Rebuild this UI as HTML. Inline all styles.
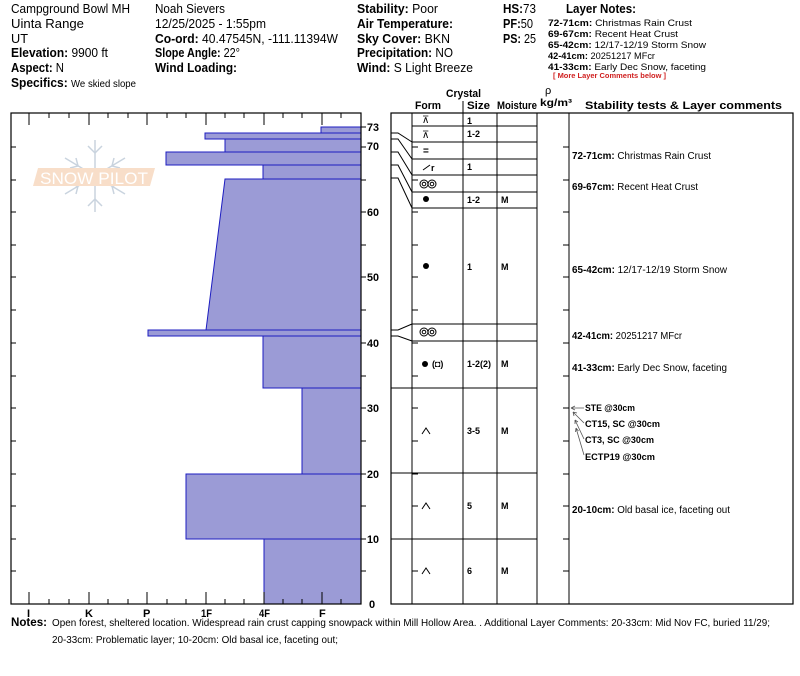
<!DOCTYPE html>
<html><head><meta charset="utf-8"><style>
html,body{margin:0;padding:0;background:#fff;width:800px;height:676px;overflow:hidden}
svg{display:block}
text{font-family:"Liberation Sans",sans-serif;fill:#000}
.h{font-size:12.5px}
.b{font-weight:bold}
.s{font-size:9.5px}
.t{font-size:9px;font-weight:bold}
</style></head><body>
<svg width="800" height="676" viewBox="0 0 800 676" xmlns="http://www.w3.org/2000/svg">
<!-- header -->
<text x="11" y="13" class="h" textLength="119" lengthAdjust="spacingAndGlyphs">Campground Bowl MH</text>
<text x="11" y="28" class="h" textLength="73" lengthAdjust="spacingAndGlyphs">Uinta Range</text>
<text x="11" y="43" class="h" textLength="17" lengthAdjust="spacingAndGlyphs">UT</text>
<text x="11" y="57" class="h" textLength="97" lengthAdjust="spacingAndGlyphs"><tspan class="b">Elevation:</tspan> 9900 ft</text>
<text x="11" y="72" class="h" textLength="53" lengthAdjust="spacingAndGlyphs"><tspan class="b">Aspect:</tspan> N</text>
<text x="11" y="87" class="h" textLength="125" lengthAdjust="spacingAndGlyphs"><tspan class="b">Specifics:</tspan> <tspan style="font-size:10px">We skied slope</tspan></text>
<text x="155" y="13" class="h" textLength="70" lengthAdjust="spacingAndGlyphs">Noah Sievers</text>
<text x="155" y="28" class="h" textLength="111" lengthAdjust="spacingAndGlyphs">12/25/2025 - 1:55pm</text>
<text x="155" y="43" class="h" textLength="183" lengthAdjust="spacingAndGlyphs"><tspan class="b">Co-ord:</tspan> 40.47545N, -111.11394W</text>
<text x="155" y="57" class="h" textLength="85" lengthAdjust="spacingAndGlyphs"><tspan class="b">Slope Angle:</tspan> 22°</text>
<text x="155" y="72" class="h b" textLength="82" lengthAdjust="spacingAndGlyphs">Wind Loading:</text>
<text x="357" y="13" class="h" textLength="81" lengthAdjust="spacingAndGlyphs"><tspan class="b">Stability:</tspan> Poor</text>
<text x="357" y="28" class="h b" textLength="96" lengthAdjust="spacingAndGlyphs">Air Temperature:</text>
<text x="357" y="43" class="h" textLength="93" lengthAdjust="spacingAndGlyphs"><tspan class="b">Sky Cover:</tspan> BKN</text>
<text x="357" y="57" class="h" textLength="96" lengthAdjust="spacingAndGlyphs"><tspan class="b">Precipitation:</tspan> NO</text>
<text x="357" y="72" class="h" textLength="116" lengthAdjust="spacingAndGlyphs"><tspan class="b">Wind:</tspan>  S Light Breeze</text>
<text x="503" y="13" class="h" textLength="33" lengthAdjust="spacingAndGlyphs"><tspan class="b">HS:</tspan>73</text>
<text x="503" y="28" class="h" textLength="30" lengthAdjust="spacingAndGlyphs"><tspan class="b">PF:</tspan>50</text>
<text x="503" y="43" class="h" textLength="33" lengthAdjust="spacingAndGlyphs"><tspan class="b">PS:</tspan> 25</text>
<text x="566" y="13" class="h b" textLength="70" lengthAdjust="spacingAndGlyphs">Layer Notes:</text>
<text x="548" y="26" class="s" textLength="144" lengthAdjust="spacingAndGlyphs"><tspan font-weight="bold">72-71cm:</tspan> Christmas Rain Crust</text>
<text x="548" y="37" class="s" textLength="130" lengthAdjust="spacingAndGlyphs"><tspan font-weight="bold">69-67cm:</tspan> Recent Heat Crust</text>
<text x="548" y="48" class="s" textLength="158" lengthAdjust="spacingAndGlyphs"><tspan font-weight="bold">65-42cm:</tspan> 12/17-12/19 Storm Snow</text>
<text x="548" y="59" class="s" textLength="107" lengthAdjust="spacingAndGlyphs"><tspan font-weight="bold">42-41cm:</tspan> 20251217 MFcr</text>
<text x="548" y="70" class="s" textLength="158" lengthAdjust="spacingAndGlyphs"><tspan font-weight="bold">41-33cm:</tspan> Early Dec Snow, faceting</text>
<text x="553" y="78" style="font-size:7px;fill:#d02020;font-weight:bold" textLength="113" lengthAdjust="spacingAndGlyphs">[ More Layer Comments below ]</text>
<!-- table headers -->
<text x="446" y="97" font-size="11" font-weight="bold" textLength="35" lengthAdjust="spacingAndGlyphs">Crystal</text>
<text x="415" y="109" font-size="11" font-weight="bold" textLength="26" lengthAdjust="spacingAndGlyphs">Form</text>
<text x="467" y="109" font-size="11" font-weight="bold" textLength="23" lengthAdjust="spacingAndGlyphs">Size</text>
<text x="497" y="109" font-size="11" font-weight="bold" textLength="40" lengthAdjust="spacingAndGlyphs">Moisture</text>
<text x="545" y="94" font-size="11">ρ</text>
<text x="540" y="106" font-size="10" font-weight="bold" textLength="32" lengthAdjust="spacingAndGlyphs">kg/m³</text>
<text x="585" y="109" font-size="11" font-weight="bold" textLength="197" lengthAdjust="spacingAndGlyphs">Stability tests &amp; Layer comments</text>
<line x1="463" y1="101" x2="463" y2="113" stroke="#000"/>
<!-- watermark -->
<g opacity="0.45">
<g stroke="#8aa0b8" stroke-width="1.5" fill="none">
<line x1="95" y1="140" x2="95" y2="212"/>
<line x1="65" y1="158" x2="125" y2="194"/>
<line x1="65" y1="194" x2="125" y2="158"/>
<path d="M88 146 L95 153 L102 146 M88 206 L95 199 L102 206 M70 168 L78 166 L76 158 M120 184 L112 186 L114 194 M70 184 L78 186 L76 194 M120 168 L112 166 L114 158"/>
</g>
<polygon points="38,168 155,168 150,186 33,186" fill="#f0b888"/>
<text x="40" y="184" style="font-size:17px;fill:#fff" textLength="108" lengthAdjust="spacingAndGlyphs">SNOW PILOT</text>
</g>
<!-- bars -->
<g fill="#9b9bd6" stroke="#1c1cc0" stroke-width="1">
<rect x="264" y="539" width="97" height="65"/>
<rect x="186" y="474" width="175" height="65"/>
<rect x="302" y="388" width="59" height="86"/>
<rect x="263" y="336" width="98" height="52"/>
<rect x="148" y="330" width="213" height="6"/>
<polygon points="206,330 225,179 361,179 361,330"/>
<rect x="263" y="165" width="98" height="14"/>
<rect x="166" y="152" width="195" height="13"/>
<rect x="225" y="139" width="136" height="13"/>
<rect x="205" y="133" width="156" height="6"/>
<rect x="321" y="127" width="40" height="6"/>
</g>
<rect x="11" y="113" width="350" height="491" fill="none" stroke="#000" stroke-width="1.2"/>
<g stroke="#000" stroke-width="1">
<path d="M29 113v12M89 113v12M147 113v12M206 113v12M264 113v12M322 113v12
M49 113v5M69 113v5M108 113v5M128 113v5M167 113v5M186 113v5M225 113v5M244 113v5M283 113v5M302 113v5M341 113v5
M29 604v-12M89 604v-12M147 604v-12M206 604v-12M264 604v-12M322 604v-12
M49 604v-5M69 604v-5M108 604v-5M128 604v-5M167 604v-5M186 604v-5M225 604v-5M244 604v-5M283 604v-5M302 604v-5M341 604v-5"/>
<path d="M11 571h5M11 539h5M11 506h5M11 474h5M11 441h5M11 408h5M11 376h5M11 343h5M11 310h5M11 277h5M11 245h5M11 212h5M11 180h5M11 147h5
M361 571h5M361 539h5M361 506h5M361 474h5M361 441h5M361 408h5M361 376h5M361 343h5M361 310h5M361 277h5M361 245h5M361 212h5M361 180h5M361 147h5M361 127h5"/>
</g>
<g font-weight="bold" font-size="11">
<text x="367" y="131" textLength="12" lengthAdjust="spacingAndGlyphs">73</text>
<text x="367" y="150" textLength="12" lengthAdjust="spacingAndGlyphs">70</text>
<text x="367" y="216" textLength="12" lengthAdjust="spacingAndGlyphs">60</text>
<text x="367" y="281" textLength="12" lengthAdjust="spacingAndGlyphs">50</text>
<text x="367" y="347" textLength="12" lengthAdjust="spacingAndGlyphs">40</text>
<text x="367" y="412" textLength="12" lengthAdjust="spacingAndGlyphs">30</text>
<text x="367" y="478" textLength="12" lengthAdjust="spacingAndGlyphs">20</text>
<text x="367" y="543" textLength="12" lengthAdjust="spacingAndGlyphs">10</text>
<text x="369" y="608">0</text>
<text x="27" y="617">I</text>
<text x="85" y="617">K</text>
<text x="143" y="617">P</text>
<text x="201" y="617" textLength="11" lengthAdjust="spacingAndGlyphs">1F</text>
<text x="259" y="617" textLength="11" lengthAdjust="spacingAndGlyphs">4F</text>
<text x="319" y="617">F</text>
</g>
<!-- right table -->
<g stroke="#000" stroke-width="1" fill="none">
<rect x="391" y="113" width="402" height="491" stroke-width="1.2"/>
<line x1="412" y1="113" x2="412" y2="604"/>
<line x1="463" y1="113" x2="463" y2="604"/>
<line x1="497" y1="113" x2="497" y2="604"/>
<line x1="537" y1="113" x2="537" y2="604"/>
<line x1="569" y1="113" x2="569" y2="604"/>
<path d="M412 126H537M412 142H537M412 159H537M412 175H537M412 192H537M412 208H537M412 324H537M412 341H537M391 388H537M391 473H537M391 539H537"/>
<path d="M391 133H398L412 142M391 139H398L412 159M391 152H398L412 175M391 165H398L412 192M391 178H398L412 208M391 330H398L412 324M391 336H398L412 341"/>
<path d="M412 212h6M412 245h6M412 277h6M412 310h6M412 343h6M412 376h6M412 408h6M412 441h6M412 474h6M412 506h6M412 539h6M412 571h6M412 180h6M412 147h6
M569 212h-6M569 245h-6M569 277h-6M569 310h-6M569 343h-6M569 376h-6M569 408h-6M569 441h-6M569 474h-6M569 506h-6M569 539h-6M569 571h-6M569 180h-6M569 147h-6"/>
<circle cx="424" cy="184" r="4"/><circle cx="432" cy="184" r="4"/>
<circle cx="424" cy="184" r="1.8"/><circle cx="432" cy="184" r="1.8"/>
<circle cx="424" cy="332" r="4"/><circle cx="432" cy="332" r="4"/>
<circle cx="424" cy="332" r="1.8"/><circle cx="432" cy="332" r="1.8"/>
<path d="M422 434L426 428L430 434M422 509L426 503L430 509M422 574L426 568L430 574" />
<path d="M423 170L430 165"/>
</g>
<g font-weight="bold" font-size="9">
<text x="422" y="123" font-size="10" font-weight="normal">⊼</text>
<text x="422" y="138" font-size="10" font-weight="normal">⊼</text>
<text x="423" y="154" font-size="10">=</text>
<text x="431" y="171" font-size="9">r</text>
<circle cx="426" cy="199" r="3" fill="#000"/>
<circle cx="426" cy="266" r="3" fill="#000"/>
<circle cx="425" cy="364" r="3" fill="#000"/>
<text x="432" y="367" font-size="9">(◘)</text>
<text x="467" y="124" class="t">1</text>
<text x="467" y="137" class="t">1-2</text>
<text x="467" y="170" class="t">1</text>
<text x="467" y="203" class="t">1-2</text>
<text x="501" y="203" class="t">M</text>
<text x="467" y="270" class="t">1</text>
<text x="501" y="270" class="t">M</text>
<text x="467" y="367" class="t" textLength="24" lengthAdjust="spacingAndGlyphs">1-2(2)</text>
<text x="501" y="367" class="t">M</text>
<text x="467" y="434" class="t">3-5</text>
<text x="501" y="434" class="t">M</text>
<text x="467" y="509" class="t">5</text>
<text x="501" y="509" class="t">M</text>
<text x="467" y="574" class="t">6</text>
<text x="501" y="574" class="t">M</text>
</g>
<g font-size="10">
<text x="572" y="159" textLength="139" lengthAdjust="spacingAndGlyphs"><tspan font-weight="bold">72-71cm:</tspan> Christmas Rain Crust</text>
<text x="572" y="190" textLength="126" lengthAdjust="spacingAndGlyphs"><tspan font-weight="bold">69-67cm:</tspan> Recent Heat Crust</text>
<text x="572" y="273" textLength="155" lengthAdjust="spacingAndGlyphs"><tspan font-weight="bold">65-42cm:</tspan> 12/17-12/19 Storm Snow</text>
<text x="572" y="339" textLength="110" lengthAdjust="spacingAndGlyphs"><tspan font-weight="bold">42-41cm:</tspan> 20251217 MFcr</text>
<text x="572" y="371" textLength="155" lengthAdjust="spacingAndGlyphs"><tspan font-weight="bold">41-33cm:</tspan> Early Dec Snow, faceting</text>
<text x="572" y="513" textLength="158" lengthAdjust="spacingAndGlyphs"><tspan font-weight="bold">20-10cm:</tspan> Old basal ice, faceting out</text>
</g>
<g font-size="9" font-weight="bold">
<text x="585" y="411" textLength="50" lengthAdjust="spacingAndGlyphs">STE @30cm</text>
<text x="585" y="427" textLength="75" lengthAdjust="spacingAndGlyphs">CT15, SC @30cm</text>
<text x="585" y="443" textLength="69" lengthAdjust="spacingAndGlyphs">CT3, SC @30cm</text>
<text x="585" y="460" textLength="70" lengthAdjust="spacingAndGlyphs">ECTP19 @30cm</text>
</g>
<g stroke="#555" stroke-width="0.8" fill="none">
<path d="M571 408H584M571 408l4 -2M571 408l4 2"/>
<path d="M573 412L584 423M573 412l1 4M573 412l4 1"/>
<path d="M575 420L584 439M575 420l0 4M575 420l3 2"/>
<path d="M576 428L584 455M576 428l-0.5 4M576 428l2.5 3"/>
</g>
<!-- notes -->
<text x="11" y="626" font-size="12" font-weight="bold" textLength="36" lengthAdjust="spacingAndGlyphs">Notes:</text>
<text x="52" y="626" font-size="10" textLength="718" lengthAdjust="spacingAndGlyphs">Open forest, sheltered location. Widespread rain crust capping snowpack within Mill Hollow Area. . Additional Layer Comments: 20-33cm: Mid Nov FC, buried 11/29;</text>
<text x="52" y="643" font-size="10" textLength="286" lengthAdjust="spacingAndGlyphs">20-33cm: Problematic layer; 10-20cm: Old basal ice, faceting out;</text>
</svg>
</body></html>
